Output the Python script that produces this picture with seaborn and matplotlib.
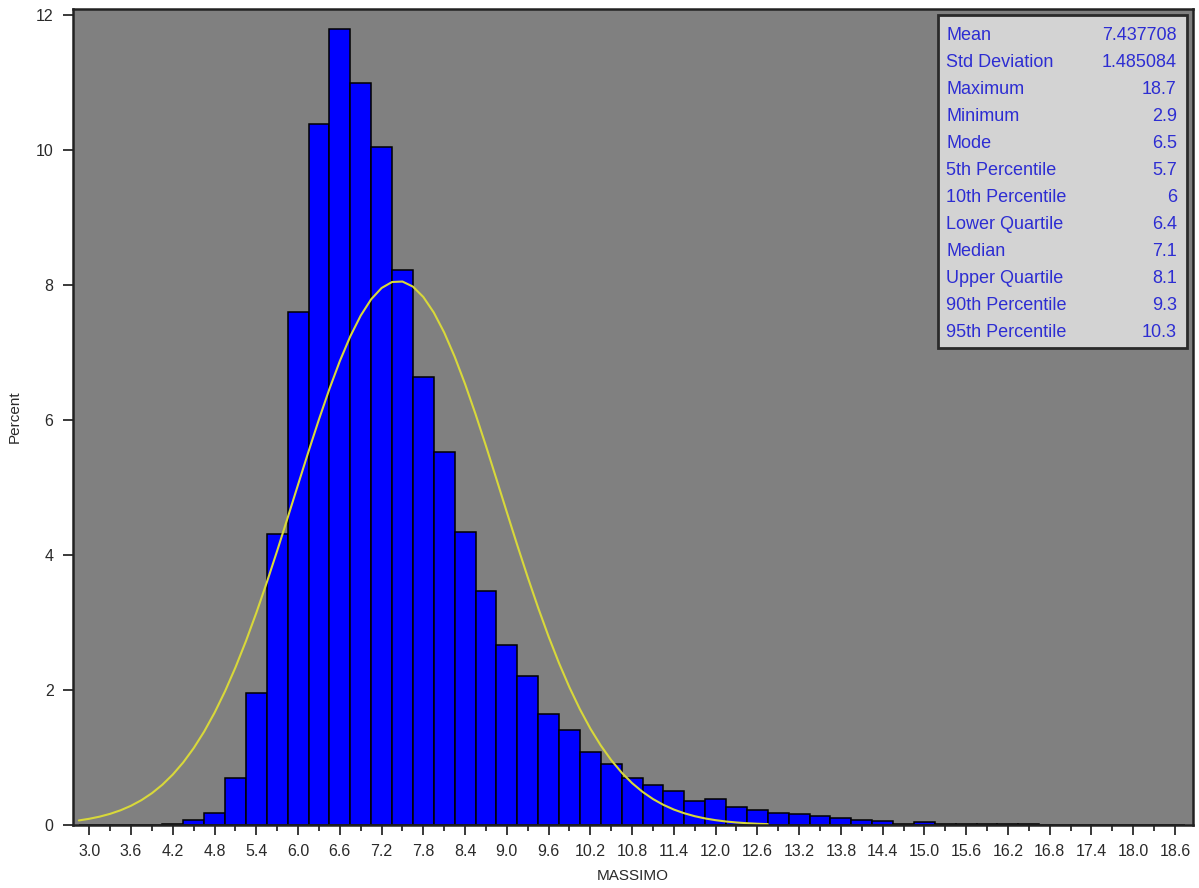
import numpy as np
import pandas as pd
import matplotlib
matplotlib.use("Agg")
import matplotlib.pyplot as plt
from matplotlib.patches import Rectangle
import seaborn as sns

# ---------------- data ----------------
bin_centers = [round(3.0 + 0.3 * i, 1) for i in range(53)]  # 3.0 .. 18.6
percent = [
    0.0, 0.0, 0.0, 0.0, 0.02, 0.07, 0.18, 0.70, 1.96, 4.31,      # 3.0 - 5.7
    7.60, 10.38, 11.79, 10.99, 10.05, 8.22, 6.64, 5.53, 4.34, 3.47,  # 6.0 - 8.7
    2.66, 2.21, 1.64, 1.41, 1.08, 0.91, 0.70, 0.60, 0.50, 0.36,  # 9.0 - 11.7
    0.38, 0.26, 0.23, 0.18, 0.16, 0.13, 0.11, 0.08, 0.06, 0.02,  # 12.0 - 14.7
    0.05, 0.01, 0.01, 0.01, 0.01, 0.01, 0.0, 0.0, 0.0, 0.0,      # 15.0 - 17.7
    0.0, 0.0, 0.0,                                               # 18.0 - 18.6
]
stat_labels = ["Mean", "Std Deviation", "Maximum", "Minimum", "Mode",
               "5th Percentile", "10th Percentile", "Lower Quartile", "Median",
               "Upper Quartile", "90th Percentile", "95th Percentile"]
stat_values = ["7.437708", "1.485084", "18.7", "2.9", "6.5", "5.7", "6",
               "6.4", "7.1", "8.1", "9.3", "10.3"]
mean_val = 7.437708
std_val = 1.485084
bin_width = 0.3
x_ticks = [round(3.0 + 0.6 * i, 1) for i in range(27)]      # 3.0 .. 18.6
y_ticks = [0, 2, 4, 6, 8, 10, 12]

# ---------------- figure ----------------
sns.set_theme(style="ticks")
plt.rcParams["font.family"] = ["Liberation Sans", "DejaVu Sans"]

fig = plt.figure(figsize=(11.99, 8.88), dpi=100)
ax = fig.add_axes([0.0609, 0.0709, 0.9341, 0.919])
ax.set_facecolor("#808080")

df = pd.DataFrame({"MASSIMO": bin_centers, "pct": percent})
edges = [round(bin_centers[0] - bin_width / 2 + bin_width * i, 2)
         for i in range(len(bin_centers) + 1)]
sns.histplot(data=df, x="MASSIMO", weights="pct", bins=edges, stat="count",
             color="#0000FF", alpha=1.0, edgecolor="black", linewidth=1.1, ax=ax)

# fitted normal curve (from the stated mean / std, scaled to percent per bin)
xs = np.linspace(2.85, 12.75, 67)
ys = 100 * bin_width * np.exp(-0.5 * ((xs - mean_val) / std_val) ** 2) / (std_val * np.sqrt(2 * np.pi))
sns.lineplot(x=xs, y=ys, color="#D8D83A", linewidth=1.5, ax=ax)

ax.set_xlim(2.766, 18.86)
ax.set_ylim(0, 12.09)
ax.set_xticks(x_ticks)
ax.set_xticklabels([f"{v:.1f}" for v in x_ticks])
ax.set_xticks([round(3.3 + 0.6 * i, 1) for i in range(26)], minor=True)
ax.set_yticks(y_ticks)
ax.set_yticklabels([str(v) for v in y_ticks])
ax.tick_params(axis="both", which="major", direction="out", length=7, width=1.3,
               color="#2a2a2a", labelsize=11.5, labelcolor="#2a2a2a", pad=7)
ax.tick_params(axis="x", which="major", pad=7)
ax.tick_params(axis="x", which="minor", direction="out", length=4, width=1.3, color="#2a2a2a")
ax.set_xlabel("MASSIMO", fontsize=11, color="#2a2a2a", labelpad=7)
ax.set_ylabel("Percent", fontsize=11, color="#2a2a2a", labelpad=10)
for s in ax.spines.values():
    s.set_color("#222222")
    s.set_linewidth(1.8)
    s.set_visible(True)

# statistics inset
bx0, by0, bx1, by1 = 0.772, 0.5846, 0.9946, 0.9926
ax.add_patch(Rectangle((bx0, by0), bx1 - bx0, by1 - by0, transform=ax.transAxes,
                       facecolor="#D3D3D3", edgecolor="#2A2A2A", linewidth=2.0, zorder=5))
row_top = 0.9675
row_step = 27 / 816
for i, (lab, val) in enumerate(zip(stat_labels, stat_values)):
    y = row_top - i * row_step
    ax.text(0.7795, y, lab, transform=ax.transAxes, ha="left", va="center",
            fontsize=13, color="#2D2DD2", zorder=6)
    ax.text(0.9855, y, val, transform=ax.transAxes, ha="right", va="center",
            fontsize=13, color="#2D2DD2", zorder=6)

fig.savefig("out.png", dpi=100, facecolor="white")
